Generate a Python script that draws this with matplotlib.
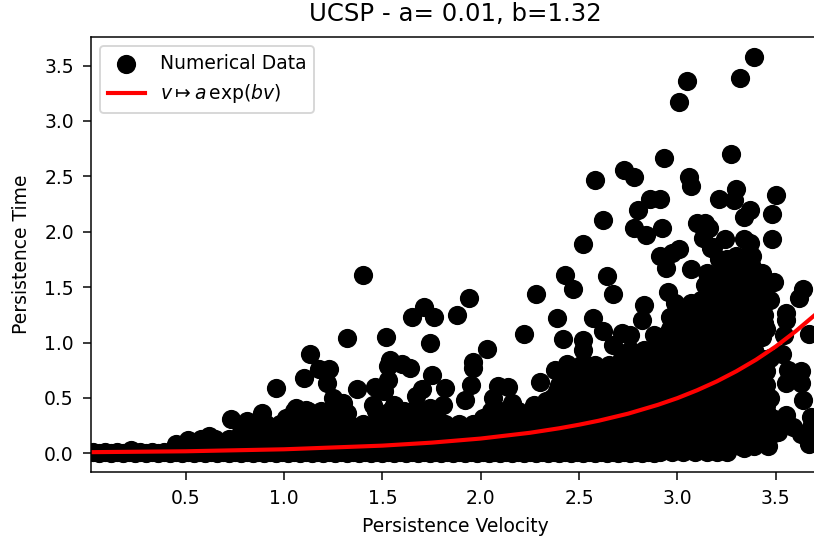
import matplotlib
matplotlib.use('Agg')
import matplotlib.pyplot as plt

# ── points that can be read one by one ───────────────────────────────────────
upper_velocity = [
    3.39, 3.32, 3.05, 3.01, 2.93, 3.27, 2.58, 2.73, 2.78, 3.06, 3.07, 3.30, 3.21, 3.29, 3.50, 2.91,
    2.86, 2.80, 3.37, 3.34, 3.48, 2.62, 2.78, 2.84, 2.92, 3.10, 3.14, 3.16, 3.13, 3.24, 3.34, 3.37,
    3.48, 2.52, 3.01, 2.91, 2.97, 2.94, 3.07, 3.17, 3.21, 3.38, 2.43, 2.64, 3.15, 3.22, 3.33, 3.43,
    3.49, 1.94, 1.88, 2.28, 2.47, 2.67, 2.95, 2.83, 2.82, 2.39, 2.57, 2.22, 2.42, 2.52, 2.52, 2.62,
    2.72, 2.76, 2.67, 2.03, 1.96, 1.96, 1.95, 1.82, 2.09, 2.14, 2.30, 2.38, 2.44, 2.54, 2.40, 2.06,
    1.92, 1.81, 2.16, 2.33, 2.27, 2.88, 3.64, 3.62, 3.31, 3.14, 3.22, 3.40, 3.55, 3.55, 3.67, 3.54,
    3.53, 3.43, 3.44, 3.63, 3.63, 3.64, 3.56, 3.55, 3.55, 3.59, 3.49, 3.63, 3.67, 3.68, 3.68, 3.39,
    3.34, 3.25, 2.99, 3.07, 2.96, 3.50,
    3.18, 3.25, 3.30, 3.35, 3.32, 3.27, 3.38, 3.25, 3.35, 3.28, 3.15,
]
upper_time = [
    3.58, 3.39, 3.36, 3.17, 2.67, 2.70, 2.47, 2.56, 2.49, 2.49, 2.41, 2.39, 2.30, 2.29, 2.33, 2.30,
    2.30, 2.20, 2.20, 2.13, 2.16, 2.11, 2.03, 1.97, 2.03, 2.08, 2.08, 2.03, 1.94, 1.93, 1.93, 1.90,
    1.93, 1.89, 1.84, 1.78, 1.81, 1.67, 1.66, 1.85, 1.75, 1.78, 1.61, 1.60, 1.54, 1.63, 1.66, 1.63,
    1.55, 1.40, 1.25, 1.44, 1.48, 1.44, 1.46, 1.34, 1.20, 1.22, 1.22, 1.08, 1.03, 1.02, 0.93, 1.10,
    1.09, 1.07, 0.98, 0.94, 0.82, 0.77, 0.62, 0.59, 0.61, 0.60, 0.64, 0.75, 0.81, 0.80, 0.60, 0.50,
    0.48, 0.44, 0.45, 0.47, 0.44, 1.07, 1.48, 1.40, 1.42, 1.52, 1.54, 1.32, 1.27, 1.20, 1.08, 1.07,
    0.90, 1.05, 1.18, 0.74, 0.63, 0.48, 0.75, 0.63, 0.35, 0.24, 0.18, 0.17, 0.08, 0.33, 0.24, 0.09,
    0.05, 0.01, 1.36, 1.36, 1.23, 0.30,
    1.86, 1.75, 1.78, 1.78, 1.66, 1.66, 1.68, 1.59, 1.59, 1.57, 1.63,
]

left_velocity = [
    1.40, 1.71, 1.65, 1.76, 1.32, 1.52, 1.74, 1.13, 1.18, 1.23, 1.10, 0.96, 1.22, 1.37, 1.54, 1.53,
    1.60, 1.64, 1.53, 1.46, 1.51, 1.75, 1.70, 1.67, 1.45, 1.56, 1.67, 1.74, 1.25, 1.30, 1.32, 1.06,
    1.11, 0.89, 0.73, 0.81, 0.62, 0.51, 0.45, 0.22,
]
left_time = [
    1.61, 1.32, 1.23, 1.23, 1.04, 1.05, 1.00, 0.90, 0.76, 0.76, 0.68, 0.59, 0.63, 0.58, 0.84, 0.79,
    0.81, 0.77, 0.66, 0.60, 0.56, 0.71, 0.58, 0.52, 0.44, 0.44, 0.41, 0.41, 0.50, 0.45, 0.36, 0.41,
    0.39, 0.36, 0.31, 0.29, 0.16, 0.12, 0.08, 0.03,
]

# ── solid mass, estimated level by level since single points can't be seen ───
mass_time = [0.01, 0.00, 0.13, 0.26, 0.38, 0.50, 0.62, 0.74, 0.86, 1.00, 1.12, 1.25, 1.38, 1.50,
             0.07, 0.19, 0.32, 0.44, 0.56, 0.68, 0.80, 0.93, 1.06, 1.19, 1.31, 1.44]
mass_velocity = [
    [0.03, 0.09, 0.15, 0.21, 0.27, 0.33, 0.39, 0.45, 0.51, 0.57, 0.63, 0.69, 0.75, 0.81, 0.87, 0.93,
     0.99, 1.05, 1.11, 1.17, 1.23, 1.29, 1.35, 1.41, 1.47, 1.53, 1.59, 1.65, 1.71, 1.77, 1.83, 1.89,
     1.95, 2.01, 2.07, 2.13, 2.19, 2.25, 2.31, 2.37, 2.43, 2.49, 2.55, 2.61, 2.67, 2.73, 2.79, 2.85,
     2.91, 2.97, 3.03, 3.09, 3.15, 3.20],
    [0.06, 0.12, 0.18, 0.24, 0.30, 0.36, 0.42, 0.48, 0.54, 0.60, 0.66, 0.72, 0.78, 0.84, 0.90, 0.96,
     1.02, 1.08, 1.14, 1.20, 1.26, 1.32, 1.38, 1.44, 1.50, 1.56, 1.62, 1.68, 1.74, 1.80, 1.86, 1.92,
     1.98, 2.04, 2.10, 2.16, 2.22, 2.28, 2.34, 2.40, 2.46, 2.52, 2.58, 2.64, 2.70, 2.76, 2.82, 2.88],
    [0.58, 0.65, 0.72, 0.79, 0.86, 0.93, 1.00, 1.07, 1.14, 1.21, 1.28, 1.35, 1.42, 1.49, 1.56, 1.63,
     1.70, 1.77, 1.84, 1.91, 1.98, 2.05, 2.12, 2.19, 2.26, 2.33, 2.40, 2.47, 2.54, 2.61, 2.68, 2.75,
     2.82, 2.89, 2.96, 3.03, 3.10, 3.17, 3.24, 3.31, 3.38, 3.45],
    [0.84, 0.91, 0.98, 1.05, 1.12, 1.19, 1.26, 1.33, 1.40, 1.47, 1.54, 1.61, 1.68, 1.75, 1.82, 1.89,
     1.96, 2.03, 2.10, 2.17, 2.24, 2.31, 2.38, 2.45, 2.52, 2.59, 2.66, 2.73, 2.80, 2.87, 2.94, 3.01,
     3.08, 3.15, 3.22, 3.29, 3.36, 3.43, 3.50],
    [1.05, 1.12, 1.19, 1.26, 1.47, 1.54, 1.61, 1.68, 1.75, 2.05, 2.12, 2.19, 2.26, 2.33, 2.40, 2.47,
     2.54, 2.61, 2.68, 2.75, 2.82, 2.89, 2.96, 3.03, 3.10, 3.17, 3.24, 3.31, 3.38, 3.45],
    [2.36, 2.43, 2.50, 2.57, 2.64, 2.71, 2.78, 2.85, 2.92, 2.99, 3.06, 3.13, 3.20, 3.27, 3.34, 3.41,
     3.47],
    [2.40, 2.47, 2.54, 2.61, 2.68, 2.75, 2.82, 2.89, 2.96, 3.03, 3.10, 3.17, 3.24, 3.31, 3.38, 3.45],
    [2.47, 2.54, 2.61, 2.68, 2.75, 2.82, 2.89, 2.96, 3.03, 3.10, 3.17, 3.24, 3.31, 3.38, 3.45],
    [2.72, 2.79, 2.86, 2.93, 3.00, 3.07, 3.14, 3.21, 3.28, 3.35, 3.42, 3.47],
    [2.90, 2.97, 3.04, 3.11, 3.18, 3.25, 3.32, 3.39],
    [2.96, 3.03, 3.10, 3.17, 3.24, 3.31, 3.38, 3.45],
    [3.02, 3.09, 3.16, 3.23, 3.30, 3.37, 3.44],
    [3.12, 3.19, 3.26, 3.33, 3.40, 3.47],
    [3.20, 3.27, 3.34, 3.41],
    [0.52, 0.59, 0.66, 0.73, 0.80, 0.87, 0.94, 1.01, 1.08, 1.15, 1.22, 1.29, 1.36, 1.43, 1.50, 1.57,
     1.64, 1.71, 1.78, 1.85, 1.92, 1.99, 2.06, 2.13, 2.20, 2.27, 2.34, 2.41, 2.48, 2.55, 2.62, 2.69,
     2.76, 2.83, 2.90, 2.97, 3.04, 3.11, 3.18, 3.25, 3.32, 3.39, 3.46],
    [0.78, 0.85, 0.92, 0.99, 1.06, 1.13, 1.20, 1.27, 1.34, 1.41, 1.48, 1.55, 1.62, 1.69, 1.76, 1.83,
     1.90, 1.97, 2.04, 2.11, 2.18, 2.25, 2.32, 2.39, 2.46, 2.53, 2.60, 2.67, 2.74, 2.81, 2.88, 2.95,
     3.02, 3.09, 3.16, 3.23, 3.30, 3.37, 3.44, 3.51],
    [1.01, 1.08, 1.15, 1.22, 1.29, 1.50, 1.57, 1.64, 1.71, 1.78, 2.01, 2.08, 2.15, 2.22, 2.29, 2.36,
     2.43, 2.50, 2.57, 2.64, 2.71, 2.78, 2.85, 2.92, 2.99, 3.06, 3.13, 3.20, 3.27, 3.34, 3.41, 3.48],
    [2.33, 2.40, 2.47, 2.54, 2.61, 2.68, 2.75, 2.82, 2.89, 2.96, 3.03, 3.10, 3.17, 3.24, 3.31, 3.38,
     3.45],
    [2.39, 2.46, 2.53, 2.60, 2.67, 2.74, 2.81, 2.88, 2.95, 3.02, 3.09, 3.16, 3.23, 3.30, 3.37, 3.44],
    [2.44, 2.51, 2.58, 2.65, 2.72, 2.79, 2.86, 2.93, 3.00, 3.07, 3.14, 3.21, 3.28, 3.35, 3.42],
    [2.51, 2.58, 2.65, 2.72, 2.79, 2.86, 2.93, 3.00, 3.07, 3.14, 3.21, 3.28, 3.35, 3.42],
    [2.76, 2.83, 2.90, 2.97, 3.04, 3.11, 3.18, 3.25, 3.32, 3.39],
    [2.93, 3.00, 3.07, 3.14, 3.21, 3.28, 3.35, 3.42],
    [3.00, 3.07, 3.14, 3.21, 3.28, 3.35, 3.42],
    [3.06, 3.13, 3.20, 3.27, 3.34, 3.41],
    [3.16, 3.23, 3.30, 3.37, 3.44],
]

fit_velocity = [0.02, 0.5, 1.0, 1.5, 1.75, 2.0, 2.25, 2.4, 2.5, 2.6, 2.75, 2.9, 3.0, 3.1, 3.2, 3.3, 3.4, 3.5, 3.6, 3.7, 3.75]
fit_time = [0.01, 0.018, 0.036, 0.069, 0.096, 0.133, 0.185, 0.226, 0.258, 0.294, 0.358, 0.437, 0.498, 0.569,
            0.649, 0.741, 0.845, 0.964, 1.10, 1.25, 1.34]

velocity = list(upper_velocity) + list(left_velocity)
time = list(upper_time) + list(left_time)
for t, row in zip(mass_time, mass_velocity):
    velocity += row
    time += [t] * len(row)

W, H, DPI = 814, 545, 135
fig = plt.figure(figsize=(W / DPI, H / DPI), dpi=DPI)
ax = fig.add_axes([90.7 / W, (H - 472) / H, (821 - 90.7) / W, (472 - 37) / H])

ax.scatter(velocity, time, s=105, color='black', linewidths=0, label='Numerical Data')
ax.plot(fit_velocity, fit_time, color='red', lw=2.2, label=r'$v \mapsto a\,\exp(bv)$')

ax.set_xlim(0.017, 3.73)
ax.set_ylim(-0.169, 3.758)
ax.set_xticks([0.5, 1.0, 1.5, 2.0, 2.5, 3.0, 3.5])
ax.set_yticks([0.0, 0.5, 1.0, 1.5, 2.0, 2.5, 3.0, 3.5])
ax.tick_params(length=4.5, pad=4.5)
ax.set_title('UCSP - a= 0.01, b=1.32', fontsize=13, pad=8.5)
ax.set_xlabel('Persistence Velocity', labelpad=5)
ax.set_ylabel('Persistence Time', labelpad=7)
ax.legend(loc='upper left')

fig.savefig('out.png', dpi=DPI)
